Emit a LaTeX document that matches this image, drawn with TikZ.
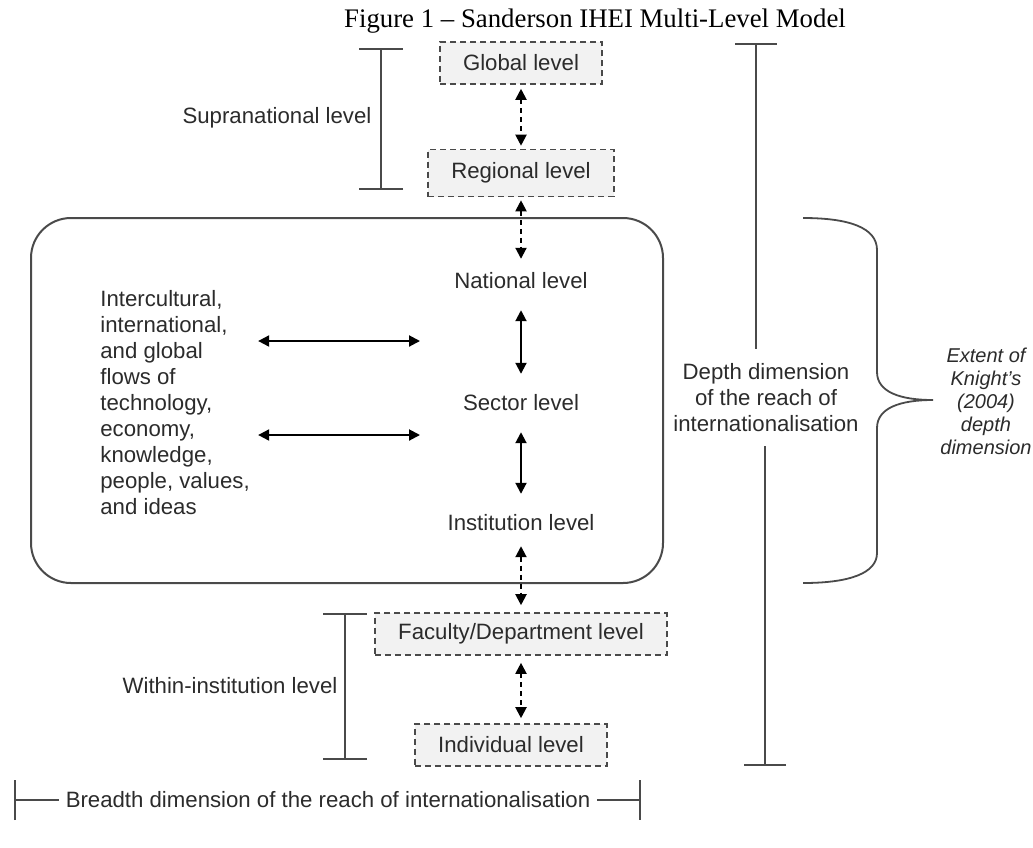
\documentclass[tikz,border=0pt]{standalone}
\usepackage{fontspec}
\setmainfont{Liberation Sans}
\newfontfamily\captionfont{Liberation Serif}
\usetikzlibrary{positioning, arrows.meta, calc}

\definecolor{linegray}{HTML}{4A4A4A}
\definecolor{textgray}{HTML}{2B2B2B}
\definecolor{boxfill}{HTML}{F2F2F2}

\begin{document}
\begin{tikzpicture}[x=0.5pt, y=-0.5pt,
    every node/.style={text=textgray, font=\fontsize{11.1}{13}\selectfont},
    levelbox/.style={draw=linegray, fill=boxfill, dash pattern=on 3pt off 2pt, line width=0.8pt, inner xsep=11.5pt, minimum height=21pt},
    levelarrow/.style={<->, >={Triangle[length=5.5pt, width=5.5pt]}, line width=1pt},
    dasharrow/.style={levelarrow, dash pattern=on 2.5pt off 2pt},
    barline/.style={draw=linegray, line width=1pt},
    span/.style={barline, {Bar[width=#1]}-{Bar[width=#1]}}]

  \useasboundingbox (0,0) rectangle (1033,847);

  % Title
  \node[anchor=base, text=black, font=\captionfont\fontsize{13.4}{15}\selectfont] (title) at (595,27) {Figure 1 – Sanderson IHEI Multi-Level Model};

  % Supranational levels
  \node[levelbox] (global) at (521,63) {Global level};
  \node[levelbox, minimum height=23.5pt] (regional) at (521,173) {Regional level};
  \node (supra) at (277,118) {Supranational level};
  \draw[span=22pt] (381,48) -- (381,190);

  % Inner frame
  \draw[linegray, line width=1pt, rounded corners=20pt] (31,218) rectangle (663,583);
  \node (national) at (521,281) {National level};
  \node (sector) at (521,403) {Sector level};
  \node (institution) at (521,523) {Institution level};
  \node[anchor=west, align=left, inner sep=0pt] (flows) at (100,403) {Intercultural,\\international,\\and global\\flows of\\technology,\\economy,\\knowledge,\\people, values,\\and ideas};

  \coordinate (flowA) at (420,341);
  \coordinate (flowB) at (420,435);
  \draw[levelarrow, shorten <=4pt] (flows.east |- flowA) -- (flowA);
  \draw[levelarrow, shorten <=4pt] (flows.east |- flowB) -- (flowB);

  % Within-institution levels
  \node[levelbox] (faculty) at (521,634) {Faculty/Department level};
  \node[levelbox] (individual) at (511,745) {Individual level};
  \node (within) at (230,686) {Within-institution level};
  \draw[span=22pt] (345,613) -- (345,760);

  % Vertical links
  \draw[dasharrow, shorten <=2pt, shorten >=1.5pt] (global) -- (regional);
  \draw[dasharrow, shorten <=1.5pt, shorten >=3.5pt] (regional) -- (national);
  \draw[levelarrow, shorten <=7pt, shorten >=7pt] (national) -- (sector);
  \draw[levelarrow, shorten <=7pt, shorten >=7pt] (sector) -- (institution);
  \draw[dasharrow, shorten <=4pt, shorten >=3.5pt] (institution) -- (faculty);
  \draw[dasharrow, shorten <=3.5pt, shorten >=2.5pt] (faculty) -- (faculty |- individual.north);

  % Breadth dimension
  \node (breadth) at (328,800) {Breadth dimension of the reach of internationalisation};
  \coordinate (breadthL) at (14,800);
  \coordinate (breadthR) at (641,800);
  \draw[barline, {Bar[width=20pt]}-] (breadthL) -- (breadth.west);
  \draw[barline, -{Bar[width=20pt]}] (breadth.east) -- (breadthR);

  % Depth dimension
  \node[align=center] (depth) at (766,398) {Depth dimension\\of the reach of\\internationalisation};
  \coordinate (depthtop) at (756,43);
  \coordinate (depthbot) at (765,766);
  \draw[barline, {Bar[width=21pt]}-, shorten >=4pt] (depthtop) -- (depthtop |- depth.north);
  \draw[barline, -{Bar[width=21pt]}, shorten <=3.5pt] (depthbot |- depth.south) -- (depthbot);

  % Knight's extent
  \draw[linegray, line width=0.9pt] (803,218) .. controls (850,218) and (877,228) .. (877,250) -- (877,372) .. controls (877,392) and (900,400) .. (933,400) .. controls (900,400) and (877,408) .. (877,428) -- (877,553) .. controls (877,573) and (850,583) .. (803,583);
  \node[align=center, font=\itshape\fontsize{10}{11.5}\selectfont] (extent) at (986,401) {Extent of\\Knight’s\\(2004)\\depth\\dimension};
\end{tikzpicture}
\end{document}
